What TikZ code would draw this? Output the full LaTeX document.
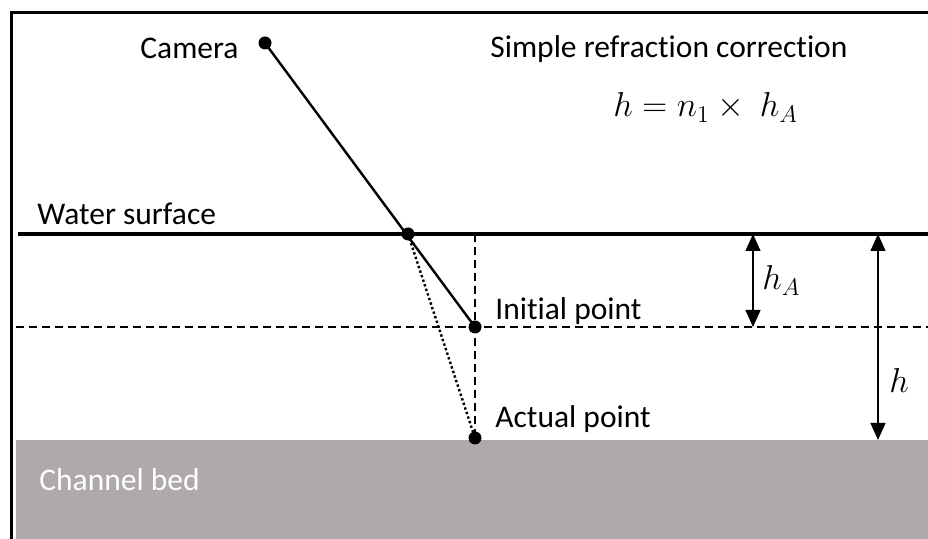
\documentclass[tikz,border=0pt]{standalone}
\usepackage{fontspec}
\setmainfont{Carlito}[Ligatures=NoCommon]
\usetikzlibrary{arrows.meta}
\definecolor{BedGray}{RGB}{174,170,170}

\begin{document}
\begin{tikzpicture}[
  x=0.5pt, y=-0.5pt,
  font=\fontsize{15.75}{19}\selectfont,
  lbl/.style={anchor=base west, inner sep=0pt},
  mathlbl/.style={lbl, font=\fontsize{17}{20}\selectfont},
  dot/.style={circle, fill=black, inner sep=0pt, minimum size=6.5pt},
  guide/.style={dash pattern=on 4pt off 2.5pt, line width=0.75pt},
  dim/.style={{Triangle[length=8.5pt,width=7.5pt]}-{Triangle[length=8.5pt,width=7.5pt]},
              line width=0.6pt},
]
  \useasboundingbox (0,0) rectangle (928,539);

  % channel bed
  \fill[BedGray] (16,440) rectangle (928,539);
  \node[lbl, text=white] (bed) at (39,491) {Channel bed};

  % frame
  \draw[line width=1.5pt] (11,539) -- (11,13) -- (928,13);

  % points
  \node[dot] (cam) at (265,43) {};
  \node[dot] (refr) at (408,234) {};
  \node[dot] (init) at (475,327) {};
  \node[dot] (actual) at (475,438) {};
  \coordinate (wl) at (18,234);
  \coordinate (wr) at (928,234);
  \coordinate (il) at (16,327);
  \coordinate (ir) at (928,327);
  \coordinate (wtop) at (475,234);

  \draw[line width=2pt] (wl) -- (wr);
  \draw[guide] (il) -- (ir);
  \draw[guide] (wtop) -- (actual.center);
  \draw[line width=1.2pt] (cam.center) -- (init.center);
  \draw[line width=1.2pt, dash pattern=on 1.2pt off 1.2pt] (refr.center) -- (actual.center);

  \node[lbl] (camlbl) at (140,59) {Camera};
  \node[lbl] (surf) at (37,225) {Water surface};
  \node[lbl] (initlbl) at (495,320) {Initial point};
  \node[lbl] (actlbl) at (495,428) {Actual point};
  \node[lbl] (title) at (490,58) {Simple refraction correction};
  \node[mathlbl] (eq) at (613,117) {$h = n_1 \times\ h_A$};

  % depths
  \coordinate (hAtop) at (753,234);
  \coordinate (hAbot) at (753,327);
  \coordinate (htop) at (878,234);
  \coordinate (hbot) at (878,440);
  \draw[dim] (hAtop) -- (hAbot);
  \draw[dim] (htop) -- (hbot);
  \node[mathlbl] (hAlbl) at (762,290) {$h_A$};
  \node[mathlbl] (hlbl) at (889,393) {$h$};
\end{tikzpicture}
\end{document}
